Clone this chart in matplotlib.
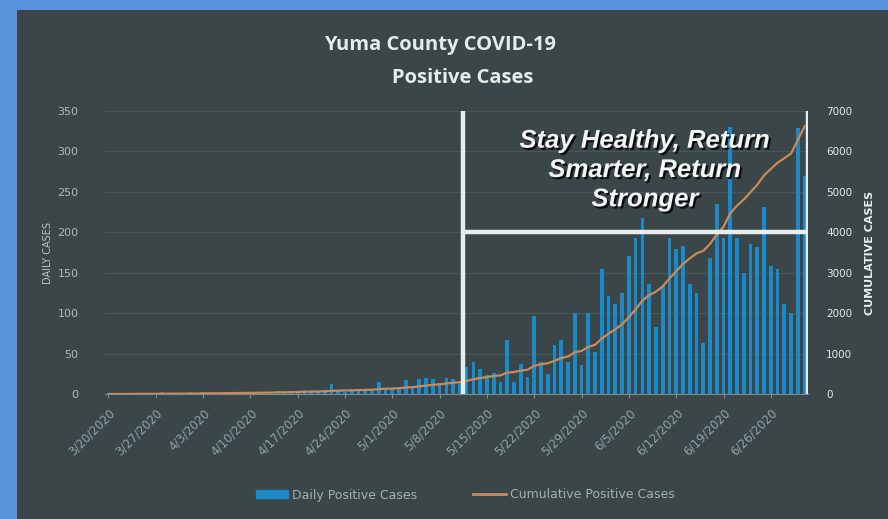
import matplotlib.pyplot as plt
import matplotlib.patheffects as pe
from matplotlib.patches import Rectangle
import numpy as np
import pandas as pd

# data (Yuma County, 3/20/2020 - 7/1/2020)
dates = pd.date_range('2020-03-20', '2020-07-01', freq='D')

daily = [0, 0, 1, 0, 1, 1, 0, 1, 2, 1, 1, 1, 2, 1, 2, 2, 1, 2, 3, 2, 2,
         2, 3, 2, 3, 4, 3, 3, 4, 5, 4, 3, 5,
         12,
         4, 3, 5, 6, 4, 5,
         15, 8, 6, 8, 17, 10, 18, 20, 18, 14, 20, 18, 12,
         34, 40, 31, 24, 26, 15, 67, 15, 37, 21, 96, 40, 25, 61, 67, 40, 100,
         36, 100, 52, 154, 121, 111, 125, 171, 193, 218, 136, 83, 133, 193,
         179, 183, 136, 125, 63, 168, 235, 193, 330, 193, 150, 185, 182, 231,
         158, 154, 111, 100, 329, 270]

cumulative = [0, 0, 1, 1, 2, 3, 3, 4, 6, 7, 8, 9, 11, 12, 14, 16, 17, 19, 22, 24, 26,
              28, 31, 33, 36, 40, 43, 46, 50, 55, 59, 62, 67,
              79,
              83, 86, 91, 97, 101, 106,
              121, 129, 135, 143, 160, 170, 188, 208, 226, 240, 260, 278, 290,
              324, 364, 395, 419, 445, 460, 527, 542, 579, 600, 696, 736, 761,
              822, 889, 929, 1029, 1065, 1165, 1217, 1371, 1492, 1603, 1728,
              1899, 2092, 2310, 2446, 2529, 2662, 2855, 3034, 3217, 3353, 3478,
              3541, 3709, 3944, 4137, 4467, 4660, 4810, 4995, 5177, 5408, 5566,
              5720, 5831, 5950, 6290, 6620]

tick_days = list(range(0, len(dates), 7))
tick_labels = [f'{d.month}/{d.day}/{d.year}' for d in dates[tick_days]]

# slide overlay ("Stay Healthy..." sign)
sign_day = 52.4
sign_level = 4000
sign_text = 'Stay Healthy, Return\nSmarter, Return\nStronger'

panel = '#3a4647'
bar_c = '#1b89c8'
line_c = '#c98a5c'
grid_c = '#4a5757'

fig = plt.figure(figsize=(8.88, 5.19), dpi=100)
fig.patch.set_facecolor('#5a93dc')
fig.add_artist(Rectangle((17/888, 0), 1, 1 - 10/519, transform=fig.transFigure,
                         facecolor=panel, edgecolor='none', zorder=-10))

ax = fig.add_axes([105/888, 1 - 394/519, 703/888, 283/519])
ax.set_facecolor(panel)
x = np.arange(len(dates))

ax.bar(x, daily, width=0.55, color=bar_c, zorder=2)
ax.set_ylim(0, 350)
ax.set_yticks(range(0, 351, 50))
ax.set_xlim(-0.5, len(dates) - 0.5)
ax.grid(axis='y', color=grid_c, linewidth=0.8, zorder=0)
ax.set_axisbelow(True)
for s in ['top', 'right', 'left']:
    ax.spines[s].set_visible(False)
ax.spines['bottom'].set_color('#7d8c8e')
ax.tick_params(axis='y', length=0, pad=19, labelsize=8, labelcolor='#aebbbd')
ax.set_xticks(tick_days)
ax.set_xticklabels(tick_labels, rotation=45, ha='right', rotation_mode='anchor',
                   fontsize=8.5, color='#8fa4a8')
ax.tick_params(axis='x', length=3, color='#7d8c8e', pad=6)
ax.set_ylabel('DAILY CASES', fontsize=7, color='#b8c4c6', labelpad=3)

ax2 = ax.twinx()
ax2.plot(x, cumulative, color=line_c, linewidth=1.6, zorder=3)
ax2.set_ylim(0, 7000)
ax2.set_yticks(range(0, 7001, 1000))
for s in ['top', 'right', 'left', 'bottom']:
    ax2.spines[s].set_visible(False)
ax2.tick_params(axis='y', length=0, pad=13, labelsize=7.5, labelcolor='#e4eaea')
ax2.set_ylabel('CUMULATIVE CASES', fontsize=8, color='#e8eeee', fontweight='bold', labelpad=9)

# white sign frame
ax2.axvline(sign_day, ymin=0, ymax=1, color='#e8ecee', linewidth=3.2, zorder=5)
ax2.axvline(len(dates) - 0.5, ymin=0, ymax=1, color='#e8ecee', linewidth=3.2, zorder=5)
ax2.plot([sign_day, len(dates) - 0.5], [sign_level, sign_level], color='#e8ecee',
         linewidth=3.2, zorder=5, solid_capstyle='butt')
ax2.text(79.4, 5540, sign_text, ha='center', va='center',
         fontsize=18.5, fontweight='bold', fontstyle='italic', family='Liberation Sans',
         color='#f4f6f6', linespacing=1.28, zorder=6,
         path_effects=[pe.withSimplePatchShadow(offset=(1.5, -1.5), shadow_rgbFace='black', alpha=0.8)])

fig.text(440/888, 1 - 45/519, 'Yuma County COVID-19', ha='center', va='center',
         fontsize=14.5, fontweight='bold', color='#e6ecec', family='Open Sans')
fig.text(463/888, 1 - 78/519, 'Positive Cases', ha='center', va='center',
         fontsize=14.5, fontweight='bold', color='#e6ecec', family='Open Sans')

h1 = plt.Rectangle((0, 0), 1, 1, color=bar_c)
h2 = plt.Line2D([], [], color=line_c, linewidth=2)
leg = fig.legend([h1, h2], ['Daily Positive Cases', 'Cumulative Positive Cases'],
                 loc='center', bbox_to_anchor=(465/888, 1 - 495/519), ncol=2, frameon=False,
                 fontsize=9, handlelength=2.6, handleheight=0.6, columnspacing=4.5,
                 handletextpad=0.3)
for t in leg.get_texts():
    t.set_color('#9fb1b4')

fig.savefig('out.png', dpi=100, facecolor=fig.get_facecolor())
